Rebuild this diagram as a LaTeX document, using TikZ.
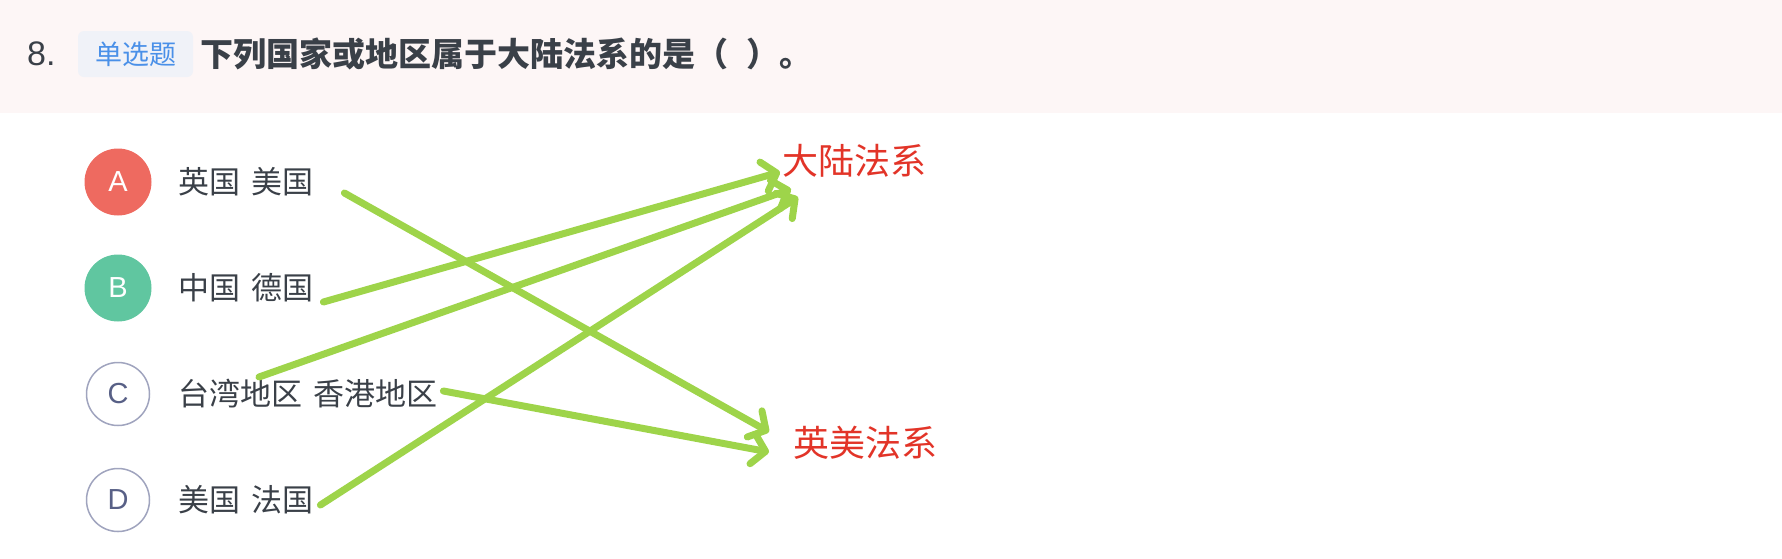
\documentclass[tikz,border=0pt]{standalone}
\usepackage{fontspec}
\setmainfont{Noto Sans CJK SC}
\newfontfamily\latin{Liberation Sans}
\usepackage{xcolor}
\usepackage{tikz}
\usetikzlibrary{arrows.meta,calc,positioning}
\definecolor{FondoCab}{RGB}{253,246,246}
\definecolor{FondoTag}{RGB}{240,242,248}
\definecolor{AzulTag}{RGB}{74,144,232}
\definecolor{GrisTexto}{RGB}{58,64,72}
\definecolor{RojoOpc}{RGB}{238,106,96}
\definecolor{VerdeOpc}{RGB}{96,198,160}
\definecolor{GrisBorde}{RGB}{160,164,190}
\definecolor{GrisLetra}{RGB}{88,96,134}
\definecolor{RojoEtiq}{RGB}{226,52,40}
\definecolor{VerdeFlecha}{RGB}{158,212,74}
\newcommand{\esp}{\hspace{11pt}}
\tikzset{
  optcirc/.style={circle,minimum size=67pt,inner sep=0pt,
    font=\latin\fontsize{29}{32}\selectfont},
  opttext/.style={anchor=west,inner sep=0pt,text=GrisTexto,
    font=\fontsize{31}{36}\selectfont},
  etiq/.style={anchor=west,inner sep=0pt,text=RojoEtiq,
    font=\fontsize{36}{40}\selectfont},
  flecha/.style={->,line width=7pt,VerdeFlecha,line cap=round}
}

\begin{document}
\begin{tikzpicture}[x=1pt,y=-1pt,>={Straight Barb[length=13pt,width=30pt,round]}]
  \useasboundingbox (0,0) rectangle (1782,558);
  \fill[FondoCab] (0,0) rectangle (1782,113);

  % cabecera
  \node[anchor=west,inner sep=0pt,text=GrisTexto,font=\latin\fontsize{34}{36}\selectfont]
       (num) at (27,54) {8.};
  \fill[FondoTag,rounded corners=6pt] (78,31) rectangle (193,77);
  \node[text=AzulTag,inner sep=0pt,font=\fontsize{27}{30}\selectfont]
       (tag) at (135.5,54) {单选题};
  \node[anchor=west,inner sep=0pt,text=GrisTexto,font=\fontsize{33}{36}\selectfont\bfseries]
       (preg) at (200,54) {下列国家或地区属于大陆法系的是（\hspace{18pt}）。};

  % opciones
  \node[optcirc,fill=RojoOpc,text=white] (cA) at (118,182) {A};
  \node[optcirc,fill=VerdeOpc,text=white] (cB) at (118,288) {B};
  \node[optcirc,draw=GrisBorde,line width=1.5pt,minimum size=63pt,text=GrisLetra]
       (cC) at (118,394) {C};
  \node[optcirc,draw=GrisBorde,line width=1.5pt,minimum size=63pt,text=GrisLetra]
       (cD) at (118,500) {D};

  \node[opttext] (optA) at (178,182) {英国\esp 美国};
  \node[opttext] (optB) at (178,288) {中国\esp 德国};
  \node[opttext] (optC) at (178,394) {台湾地区\esp 香港地区};
  \node[opttext] (optD) at (178,500) {美国\esp 法国};

  \node[etiq] (civil) at (782,161) {大陆法系};
  \node[etiq] (common) at (793,443) {英美法系};

  \coordinate (sA) at ($(optA.east)+(31,11)$);
  \coordinate (sB) at ($(optB.east)+(10,14)$);
  \coordinate (sC1) at ($(optC.west)+(81,-17)$);
  \coordinate (sC2) at ($(optC.east)+(6,-3)$);
  \coordinate (sD) at ($(optD.east)+(7,5)$);

  \draw[flecha] (sA) -- ($(common.west)+(-24,-11)$);
  \draw[flecha] (sB) -- ($(civil.west)+(-2,11)$);
  \draw[flecha] (sC1) -- ($(civil.west)+(9,28)$);
  \draw[flecha] (sC2) -- ($(common.west)+(-24,9)$);
  \draw[flecha] (sD) -- ($(civil.west)+(16,36)$);
\end{tikzpicture}
\end{document}
